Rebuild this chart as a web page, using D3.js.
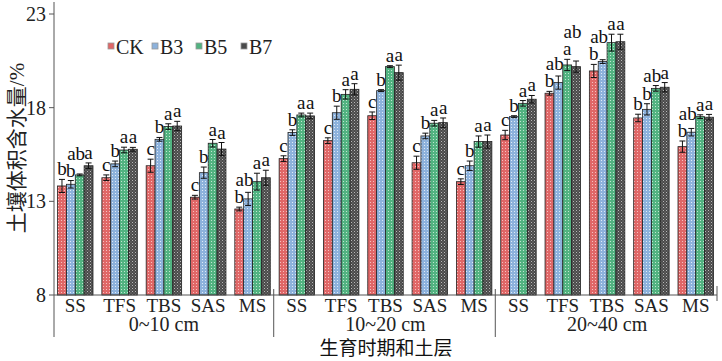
<!DOCTYPE html>
<html><head><meta charset="utf-8">
<script src="https://cdn.jsdelivr.net/npm/d3@7"></script>
<style>body{margin:0;background:#fff}svg{display:block}</style>
</head><body>
<svg id="c" width="722" height="361"></svg>
<script>
const stages = ["SS","TFS","TBS","SAS","MS"];
const layers = ["0~10 cm","10~20 cm","20~40 cm"];
const series = ["CK","B3","B5","B7"];
const colors = ["#e06767","#8db2dc","#52b381","#4a4a4a"];
const dotColors = ["#f6c0c0","#dfeaf6","#c0e6d1","#b8b8b8"];
// values per series, ordered layer-major (0-10 SS..MS, 10-20 SS..MS, 20-40 SS..MS)
const CK = [13.82,14.26,14.90,13.22,12.59, 15.28,16.24,17.57,15.06,14.05, 16.54,18.77,19.96,17.45,15.92];
const B3 = [13.91,15.00,16.31,14.53,13.13, 16.67,17.73,18.91,16.49,14.90, 17.52,19.34,20.46,17.91,16.69];
const B5 = [14.41,15.74,16.99,16.10,14.05, 17.61,18.71,20.19,17.17,16.19, 18.23,20.28,21.47,19.03,17.52];
const B7 = [14.90,15.78,17.02,15.79,14.26, 17.56,18.98,19.87,17.20,16.19, 18.45,20.19,21.52,19.09,17.49];
const errCK = [0.35,0.15,0.35,0.10,0.10, 0.15,0.15,0.20,0.35,0.15, 0.25,0.10,0.35,0.20,0.30];
const errB3 = [0.20,0.15,0.10,0.30,0.35, 0.15,0.35,0.05,0.15,0.25, 0.05,0.35,0.10,0.30,0.20];
const errB5 = [0.05,0.15,0.15,0.20,0.45, 0.10,0.25,0.05,0.15,0.30, 0.15,0.30,0.45,0.15,0.10];
const errB7 = [0.15,0.10,0.25,0.35,0.40, 0.15,0.30,0.40,0.25,0.35, 0.20,0.30,0.40,0.25,0.15];
const sigCK = ["b","c","c","c","b", "c","c","c","c","c", "c","b","b","b","b"];
const sigB3 = ["b","b","b","b","ab", "b","b","b","b","b", "b","ab","ab","b","ab"];
const sigB5 = ["ab","a","a","a","a", "a","a","a","a","a", "a","a","a","ab","a"];
const sigB7 = ["a","a","a","a","a", "a","a","a","a","a", "a","ab","a","a","a"];
const yTicks = [8,13,18,23];
const yTitle = "土壤体积含水量";
const yUnit = "/%";
const xTitle = "生育时期和土层";

const values = [CK,B3,B5,B7], errs=[errCK,errB3,errB5,errB7], sigs=[sigCK,sigB3,sigB5,sigB7];
const cats = [];
layers.forEach((l,li)=>stages.forEach((s,si)=>cats.push({id:li+"_"+s,stage:s,layer:li})));

const svg = d3.select("#c");
const serif = "'Liberation Serif','Times New Roman',serif";
const cjk = "'Noto Sans CJK SC',sans-serif";
const L=54, R=717, T=14, B=295;

const x = d3.scaleBand().domain(cats.map(c=>c.id)).range([L,R]).paddingInner(0.2).paddingOuter(0.08);
const xs = d3.scaleBand().domain(series).range([0,x.bandwidth()]);
const y = d3.scaleLinear().domain([8,23]).range([B,T]);

// patterns
const defs = svg.append("defs");
series.forEach((s,i)=>{
  const p = defs.append("pattern").attr("id","p"+i).attr("patternUnits","userSpaceOnUse")
    .attr("width",3).attr("height",3);
  p.append("rect").attr("width",3).attr("height",3).attr("fill",colors[i]);
  if(i===3){
    p.append("rect").attr("x",0).attr("y",0).attr("width",1).attr("height",1).attr("fill",dotColors[i]);
    p.append("rect").attr("x",1.5).attr("y",1.5).attr("width",1).attr("height",1).attr("fill","#888");
  } else {
    p.append("rect").attr("x",1).attr("y",1).attr("width",1).attr("height",1).attr("fill",dotColors[i]);
  }
});

// bars
const g = svg.append("g");
const LH = 15; // ink height of letter labels
cats.forEach((c,ci)=>{
  const placed=[];
  series.forEach((s,si)=>{
    const v = values[si][ci], e = errs[si][ci];
    const bx = x(c.id)+xs(s), bw = xs.bandwidth();
    g.append("rect").attr("x",bx).attr("y",y(v)).attr("width",bw).attr("height",y(8)-y(v))
      .attr("fill","url(#p"+si+")").attr("stroke","#222").attr("stroke-width",0.8);
    const cx = bx+bw/2;
    g.append("line").attr("x1",cx).attr("x2",cx).attr("y1",y(v+e)).attr("y2",y(v-e)).attr("stroke","#111").attr("stroke-width",1);
    [v+e,v-e].forEach(vv=>g.append("line").attr("x1",cx-3).attr("x2",cx+3).attr("y1",y(vv)).attr("y2",y(vv)).attr("stroke","#111").attr("stroke-width",1));
    // significance label
    const txt = sigs[si][ci];
    const t = g.append("text").text(txt).attr("font-family",serif).attr("font-size",19).attr("fill","#111");
    let baseline = y(v+e)-4;
    let anchorX, anchor;
    if(txt.length>1){anchor="end";anchorX=bx+bw+1;} else {anchor="middle";anchorX=cx;}
    t.attr("text-anchor",anchor).attr("x",anchorX).attr("y",baseline);
    const bb = t.node().getBBox();
    const x0 = bb.x+1, x1 = bb.x+bb.width-1;
    let moved=true, tries=0;
    while(moved && tries<6){
      moved=false; tries++;
      for(const p of placed){
        const xo = Math.min(x1,p.x1)-Math.max(x0,p.x0);
        const yo = Math.min(baseline,p.bottom)-Math.max(baseline-LH,p.bottom-LH);
        if(xo>0 && yo>-1){
          baseline = p.bottom-LH-2; moved=true;
        }
      }
    }
    t.attr("y",baseline);
    placed.push({x0,x1,bottom:baseline});
  });
});

// axes
const ax = svg.append("g").attr("stroke","#555").attr("stroke-width",1);
ax.append("line").attr("x1",L).attr("x2",L).attr("y1",2).attr("y2",337);
ax.append("line").attr("x1",L).attr("x2",R).attr("y1",B).attr("y2",B);
yTicks.forEach(t=>{
  ax.append("line").attr("x1",L-5).attr("x2",L).attr("y1",y(t)).attr("y2",y(t));
  svg.append("text").text(t).attr("x",L-8).attr("y",y(t)+7).attr("text-anchor","end")
    .attr("font-family",serif).attr("font-size",20).attr("fill","#222");
});
// layer separators
layers.forEach((l,li)=>{
  if(li>0){
    const xx = x(li+"_SS") - (x.step()-x.bandwidth())/2 - 1;
    ax.append("line").attr("x1",xx).attr("x2",xx).attr("y1",289).attr("y2",337);
  }
  const c1 = x(li+"_SS"), c2 = x(li+"_MS")+x.bandwidth();
  svg.append("text").text(l).attr("x",(c1+c2)/2).attr("y",331).attr("text-anchor","middle")
    .attr("font-family",serif).attr("font-size",20).attr("fill","#222");
});
ax.append("line").attr("x1",R).attr("x2",R).attr("y1",286).attr("y2",301);
cats.forEach(c=>{
  svg.append("text").text(c.stage).attr("x",x(c.id)+x.bandwidth()/2).attr("y",312).attr("text-anchor","middle")
    .attr("font-family",serif).attr("font-size",19).attr("fill","#222");
});

// titles
const yt = svg.append("text").attr("transform","translate(24,148) rotate(-90)").attr("text-anchor","middle")
  .attr("font-size",21).attr("fill","#222");
yt.append("tspan").attr("font-family",cjk).text(yTitle);
yt.append("tspan").attr("font-family",serif).text(yUnit);
svg.append("text").text(xTitle).attr("x",386).attr("y",355).attr("text-anchor","middle")
  .attr("font-family",cjk).attr("font-size",19).attr("fill","#111");

// legend
const lg = svg.append("g");
const lx = [108,152,196,241];
series.forEach((s,i)=>{
  lg.append("rect").attr("x",lx[i]).attr("y",43).attr("width",6).attr("height",6)
    .attr("fill",colors[i]).attr("stroke","#999").attr("stroke-width",0.8);
  lg.append("text").text(s).attr("x",lx[i]+8).attr("y",54).attr("font-family",serif)
    .attr("font-size",20).attr("fill","#222");
});
</script>
</body></html>
